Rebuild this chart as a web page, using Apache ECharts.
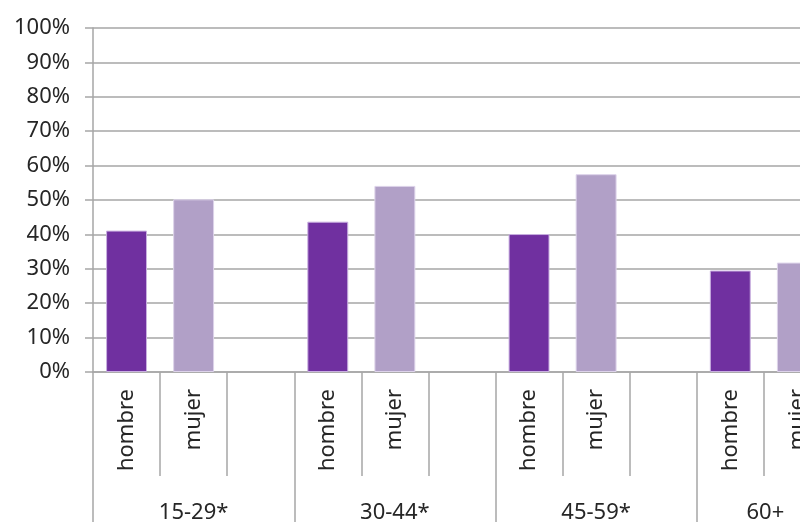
<!DOCTYPE html>
<html>
<head>
<meta charset="utf-8">
<script src="https://cdn.jsdelivr.net/npm/echarts@6/dist/echarts.min.js"></script>
<style>html,body{margin:0;padding:0;background:#fff;}#c{width:800px;height:522px;}</style>
</head>
<body>
<div id="c"></div>
<script>
var groups = ['15-29*', '30-44*', '45-59*', '60+'];
var subLabels = ['hombre', 'mujer', ''];
var hombre = [41.1, 43.7, 40.1, 29.5];
var mujer = [50.2, 54.1, 57.5, 31.8];
var yTicks = [0, 10, 20, 30, 40, 50, 60, 70, 80, 90, 100];

var cats = [], hData = [], mData = [];
groups.forEach(function (g, i) {
  subLabels.forEach(function (s, j) {
    cats.push(s);
    hData.push(j === 0 ? hombre[i] : null);
    mData.push(j === 1 ? mujer[i] : null);
  });
});

var font = 'Noto Sans';
var txt = '#262626';
var gridCol = '#a6a6a6';
var chart = echarts.init(document.getElementById('c'));
chart.setOption({
  animation: false,
  grid: { left: 93, top: 28, bottom: 150, right: -98, containLabel: false, outerBoundsMode: 'none' },
  xAxis: [{
    type: 'category', data: cats, position: 'bottom',
    axisLine: { lineStyle: { color: gridCol, width: 1.5 } },
    axisTick: { show: true, interval: 0, length: 104, lineStyle: { color: gridCol, width: 1.5 } },
    axisLabel: { interval: 0, rotate: 90, margin: 17, color: txt, fontFamily: font, fontSize: 22 }
  }, {
    type: 'category', data: groups, position: 'bottom', gridIndex: 0,
    axisLine: { show: false },
    axisTick: { show: true, interval: 0, length: 200, lineStyle: { color: gridCol, width: 1.5 } },
    axisLabel: {
      interval: 0, margin: 130, color: txt, fontFamily: font, fontSize: 22,
      formatter: function (v, idx) { return idx === groups.length - 1 ? '{s|' + v + '}' : v; },
      rich: { s: { fontFamily: font, fontSize: 22, color: txt, padding: [0, 64, 0, 0] } }
    }
  }],
  yAxis: {
    type: 'value', min: yTicks[0], max: yTicks[yTicks.length - 1], interval: 10,
    axisLine: { show: true, lineStyle: { color: gridCol, width: 1.5 } },
    axisTick: { show: true, length: 8, lineStyle: { color: gridCol, width: 1.5 } },
    axisLabel: { margin: 23, color: txt, fontFamily: font, fontSize: 22, formatter: '{value}%' },
    splitLine: { lineStyle: { color: gridCol, width: 1.5 } }
  },
  series: [{
    name: 'hombre', type: 'bar', data: hData, barWidth: '61%', barGap: '-100%',
    itemStyle: { color: '#7030a0', borderColor: '#c9b0e0', borderWidth: 1 }
  }, {
    name: 'mujer', type: 'bar', data: mData, barWidth: '61%', barGap: '-100%',
    itemStyle: { color: '#b1a0c7', borderColor: '#ddd3ea', borderWidth: 1 }
  }]
});
</script>
</body>
</html>
